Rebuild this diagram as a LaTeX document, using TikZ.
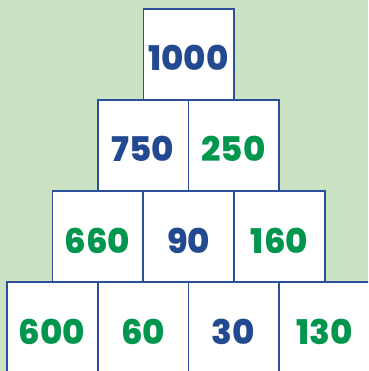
\documentclass[tikz,border=0pt]{standalone}
\usepackage{fontspec}
\setmainfont{Poppins}[BoldFont={Poppins ExtraBold}]
\definecolor{bg}{HTML}{CBE2C3}
\definecolor{nblue}{HTML}{234A91}
\definecolor{ngreen}{HTML}{00964E}
\definecolor{edge}{HTML}{2C4F9A}
\begin{document}
\begin{tikzpicture}[x=1pt,y=-1pt,
  cell/.style={draw=edge, line width=1.5pt, fill=white, minimum width=90.5pt, minimum height=91pt, inner sep=0pt,
    font=\fontsize{34}{34}\selectfont\bfseries, text height=33pt, text depth=0pt, anchor=center},
  bl/.style={cell, text=nblue},
  gr/.style={cell, text=ngreen}]
\useasboundingbox (0,0) rectangle (368,371);
\fill[bg] (0,0) rectangle (368,371);
\begin{scope}
\clip (0,0) rectangle (368,371);
\node[bl] (a) at (188.5,54.5) {1000};
\node[bl] (b1) at (143,145.5) {750};
\node[gr] (b2) at (233.5,145.5) {250};
\node[gr] (c1) at (97.5,236.5) {660};
\node[bl] (c2) at (188.5,236.5) {90};
\node[gr] (c3) at (279.5,236.5) {160};
\node[gr] (d1) at (52,327.5) {600};
\node[gr] (d2) at (143,327.5) {60};
\node[bl] (d3) at (233.5,327.5) {30};
\node[gr] (d4) at (324.5,327.5) {130};
\end{scope}
\end{tikzpicture}
\end{document}
